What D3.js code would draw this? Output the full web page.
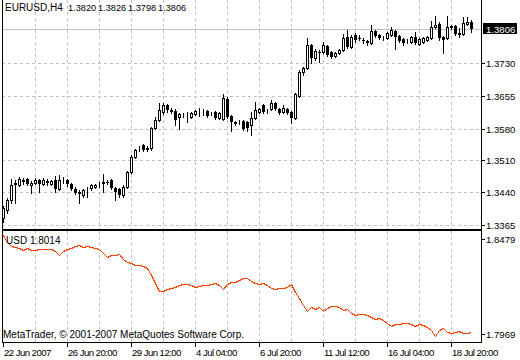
<!DOCTYPE html>
<html>
<head>
<meta charset="utf-8">
<script src="https://cdn.jsdelivr.net/npm/d3@7"></script>
<style>
  body { margin: 0; background: #fff; }
  svg { display: block; }
  text { font-family: "Liberation Sans", Arial, sans-serif; font-size: 10px; fill: #000; }
  text.num { font-size: 9.6px; }
  text.head { font-size: 9.2px; }
  text.date { font-size: 9.6px; letter-spacing: -0.55px; }
</style>
</head>
<body>
<svg id="chart" width="520" height="360"></svg>
<script>
// EURUSD H4 bars, 22 Jun 2007 .. 19 Jul 2007
const symbol = "EURUSD,H4";
const opens = [
  1.3381, 1.3399, 1.3421, 1.3457, 1.3455, 1.3464, 1.3468, 1.3455, 1.3459, 1.3466,
  1.3457, 1.3462, 1.3457, 1.3466, 1.3446, 1.3466, 1.3466, 1.3457, 1.3446, 1.3439,
  1.3432, 1.3441, 1.3448, 1.3450, 1.3457, 1.3459, 1.3462, 1.3466, 1.3448, 1.3446,
  1.3432, 1.3450, 1.3484, 1.3518, 1.3538, 1.3545, 1.3536, 1.3538, 1.3583, 1.3601,
  1.3619, 1.3635, 1.3623, 1.3621, 1.3608, 1.3612, 1.3612, 1.3608, 1.3614, 1.3621,
  1.3621, 1.3621, 1.3614, 1.3619, 1.3605, 1.3603, 1.3648, 1.3610, 1.3596, 1.3596,
  1.3599, 1.3596, 1.3590, 1.3605, 1.3619, 1.3635, 1.3621, 1.3626, 1.3639, 1.3626,
  1.3619, 1.3626, 1.3619, 1.3605, 1.3655, 1.3709, 1.3718, 1.3769, 1.3740, 1.3754,
  1.3754, 1.3767, 1.3754, 1.3745, 1.3751, 1.3758, 1.3787, 1.3765, 1.3792, 1.3785,
  1.3781, 1.3778, 1.3774, 1.3801, 1.3792, 1.3785, 1.3785, 1.3792, 1.3801, 1.3789,
  1.3783, 1.3778, 1.3776, 1.3787, 1.3771, 1.3776, 1.3781, 1.3785, 1.3810, 1.3816,
  1.3787, 1.3785, 1.3812, 1.3812, 1.3796, 1.3794, 1.3816, 1.3820
];
const highs = [
  1.3408, 1.3426, 1.3468, 1.3466, 1.3473, 1.3471, 1.3471, 1.3464, 1.3471, 1.3468,
  1.3471, 1.3468, 1.3466, 1.3475, 1.3477, 1.3473, 1.3468, 1.3459, 1.3450, 1.3444,
  1.3446, 1.3450, 1.3457, 1.3457, 1.3462, 1.3480, 1.3466, 1.3468, 1.3450, 1.3448,
  1.3455, 1.3486, 1.3522, 1.3536, 1.3542, 1.3547, 1.3542, 1.3585, 1.3608, 1.3639,
  1.3639, 1.3637, 1.3628, 1.3626, 1.3617, 1.3617, 1.3619, 1.3619, 1.3623, 1.3628,
  1.3626, 1.3623, 1.3619, 1.3621, 1.3619, 1.3659, 1.3653, 1.3612, 1.3599, 1.3601,
  1.3601, 1.3599, 1.3619, 1.3641, 1.3628, 1.3637, 1.3626, 1.3646, 1.3641, 1.3628,
  1.3635, 1.3628, 1.3621, 1.3662, 1.3713, 1.3720, 1.3785, 1.3771, 1.3760, 1.3758,
  1.3776, 1.3769, 1.3756, 1.3754, 1.3760, 1.3794, 1.3803, 1.3792, 1.3796, 1.3792,
  1.3785, 1.3781, 1.3814, 1.3803, 1.3794, 1.3789, 1.3799, 1.3810, 1.3803, 1.3792,
  1.3785, 1.3783, 1.3789, 1.3799, 1.3785, 1.3787, 1.3789, 1.3823, 1.3834, 1.3821,
  1.3789, 1.3834, 1.3814, 1.3814, 1.3807, 1.3832, 1.3832, 1.3826
];
const lows = [
  1.3372, 1.3392, 1.3414, 1.3414, 1.3453, 1.3457, 1.3455, 1.3437, 1.3457, 1.3439,
  1.3455, 1.3455, 1.3455, 1.3439, 1.3444, 1.3459, 1.3453, 1.3444, 1.3435, 1.3414,
  1.3428, 1.3428, 1.3444, 1.3448, 1.3450, 1.3439, 1.3457, 1.3446, 1.3421, 1.3428,
  1.3428, 1.3448, 1.3482, 1.3516, 1.3531, 1.3531, 1.3531, 1.3533, 1.3580, 1.3599,
  1.3614, 1.3619, 1.3617, 1.3590, 1.3580, 1.3608, 1.3596, 1.3605, 1.3612, 1.3610,
  1.3612, 1.3608, 1.3612, 1.3603, 1.3603, 1.3601, 1.3605, 1.3576, 1.3590, 1.3592,
  1.3578, 1.3576, 1.3567, 1.3603, 1.3617, 1.3617, 1.3617, 1.3623, 1.3623, 1.3614,
  1.3617, 1.3614, 1.3594, 1.3603, 1.3653, 1.3702, 1.3715, 1.3729, 1.3736, 1.3731,
  1.3751, 1.3745, 1.3740, 1.3742, 1.3749, 1.3756, 1.3763, 1.3763, 1.3776, 1.3781,
  1.3774, 1.3769, 1.3771, 1.3787, 1.3783, 1.3781, 1.3783, 1.3789, 1.3760, 1.3776,
  1.3769, 1.3774, 1.3774, 1.3771, 1.3769, 1.3774, 1.3778, 1.3783, 1.3808, 1.3781,
  1.3751, 1.3783, 1.3805, 1.3792, 1.3787, 1.3792, 1.3814, 1.3798
];
const closes = [
  1.3403, 1.3421, 1.3455, 1.3459, 1.3468, 1.3465, 1.3457, 1.3459, 1.3466, 1.3457,
  1.3466, 1.3463, 1.3464, 1.3446, 1.3466, 1.3467, 1.3457, 1.3446, 1.3437, 1.3435,
  1.3444, 1.3442, 1.3455, 1.3455, 1.3458, 1.3462, 1.3461, 1.3448, 1.3439, 1.3432,
  1.3450, 1.3484, 1.3518, 1.3533, 1.3539, 1.3533, 1.3537, 1.3583, 1.3601, 1.3623,
  1.3635, 1.3623, 1.3619, 1.3601, 1.3614, 1.3613, 1.3612, 1.3617, 1.3621, 1.3622,
  1.3621, 1.3610, 1.3614, 1.3605, 1.3617, 1.3650, 1.3608, 1.3596, 1.3592, 1.3596,
  1.3581, 1.3583, 1.3605, 1.3623, 1.3626, 1.3619, 1.3621, 1.3639, 1.3626, 1.3617,
  1.3628, 1.3617, 1.3605, 1.3659, 1.3709, 1.3718, 1.3769, 1.3740, 1.3756, 1.3753,
  1.3769, 1.3747, 1.3742, 1.3751, 1.3758, 1.3785, 1.3765, 1.3787, 1.3781, 1.3784,
  1.3778, 1.3774, 1.3801, 1.3789, 1.3785, 1.3786, 1.3796, 1.3803, 1.3787, 1.3778,
  1.3774, 1.3779, 1.3787, 1.3774, 1.3783, 1.3785, 1.3787, 1.3810, 1.3814, 1.3785,
  1.3781, 1.3810, 1.3808, 1.3794, 1.3792, 1.3819, 1.3821, 1.3806
];
// USD index in the sub window
const usdName = "USD";
const usdCurrent = 1.8014;
const usdValues = [
  1.8479, 1.8444, 1.8423, 1.8418, 1.8413, 1.8403, 1.8413, 1.8403, 1.8403, 1.8408,
  1.8408, 1.8408, 1.8408, 1.8398, 1.8378, 1.8398, 1.8408, 1.8413, 1.8423, 1.8428,
  1.8418, 1.8423, 1.8418, 1.8413, 1.8408, 1.8388, 1.8368, 1.8378, 1.8378, 1.8383,
  1.8358, 1.8343, 1.8338, 1.8327, 1.8327, 1.8322, 1.8312, 1.8277, 1.8237, 1.8196,
  1.8196, 1.8206, 1.8212, 1.8217, 1.8227, 1.8232, 1.8232, 1.8227, 1.8217, 1.8222,
  1.8227, 1.8227, 1.8232, 1.8237, 1.8227, 1.8206, 1.8232, 1.8242, 1.8242, 1.8252,
  1.8262, 1.8262, 1.8247, 1.8237, 1.8232, 1.8237, 1.8227, 1.8212, 1.8206, 1.8212,
  1.8212, 1.8217, 1.8232, 1.8191, 1.8161, 1.8126, 1.8096, 1.8116, 1.8106, 1.8116,
  1.8096, 1.8111, 1.8121, 1.8121, 1.8116, 1.8101, 1.8106, 1.8085, 1.8075, 1.8080,
  1.8080, 1.8075, 1.8065, 1.8055, 1.8060, 1.8050, 1.8035, 1.8020, 1.8030, 1.8030,
  1.8035, 1.8035, 1.8030, 1.8020, 1.8030, 1.8025, 1.8015, 1.8000, 1.7969, 1.8000,
  1.8010, 1.7990, 1.7985, 1.7990, 1.7995, 1.7985, 1.7985, 1.7990
];
const priceTicks = [1.3365, 1.3440, 1.3510, 1.3580, 1.3655, 1.3730];
const usdTicks = [1.7969, 1.8479];
const dateLabels = ["22 Jun 2007", "26 Jun 20:00", "29 Jun 12:00", "4 Jul 04:00",
                    "6 Jul 20:00", "11 Jul 12:00", "16 Jul 04:00", "18 Jul 20:00"];
const dateLabelBars = [0, 16, 32, 48, 64, 80, 96, 112];
const copyright = "MetaTrader, \u00a9 2001-2007 MetaQuotes Software Corp.";

// Layout
const left = 2, right = 481;
const mainTop = 0, mainBottom = 229;
const subTop = 231, subBottom = 342;
const barStep = 4;
const gridColor = "#c0c0c0";
const lineColor = "#ff4500";

const n = closes.length;
const fmt = d3.format(".4f");

const x = d3.scaleLinear()
  .domain([0, n - 1])
  .range([left + 1, left + 1 + barStep * (n - 1)]);
const y = d3.scaleLinear()
  .domain([priceTicks[0], priceTicks[priceTicks.length - 1]])
  .range([225, 62.5]);
const yUsd = d3.scaleLinear()
  .domain(usdTicks)
  .range([336, 235]);

const svg = d3.select("#chart")
  .attr("shape-rendering", "crispEdges");

svg.append("rect")
  .attr("width", 520).attr("height", 360)
  .attr("fill", "#fff");

// Grid
const gridBars = d3.range(8, n, 8);
const grid = svg.append("g")
  .attr("stroke", gridColor)
  .attr("stroke-dasharray", "3,3");
grid.selectAll(".vmain")
  .data(gridBars)
  .join("line")
    .attr("x1", d => x(d) + 0.5).attr("x2", d => x(d) + 0.5)
    .attr("y1", mainTop).attr("y2", mainBottom);
grid.selectAll(".vsub")
  .data(gridBars)
  .join("line")
    .attr("x1", d => x(d) + 0.5).attr("x2", d => x(d) + 0.5)
    .attr("y1", subTop).attr("y2", subBottom);
grid.selectAll(".h")
  .data(priceTicks)
  .join("line")
    .attr("x1", left).attr("x2", right)
    .attr("y1", d => Math.round(y(d)) + 0.5)
    .attr("y2", d => Math.round(y(d)) + 0.5);

// Bid line
const last = n - 1;
const bidY = Math.round(y(closes[last])) + 0.5;
svg.append("line")
  .attr("x1", left).attr("x2", right)
  .attr("y1", bidY).attr("y2", bidY)
  .attr("stroke", gridColor);

// Candles
const bars = d3.range(n);
const up = i => closes[i] >= opens[i];
const candles = svg.append("g");
candles.selectAll(".wick")
  .data(bars)
  .join("line")
    .attr("x1", i => x(i) + 0.5).attr("x2", i => x(i) + 0.5)
    .attr("y1", i => Math.round(y(highs[i])))
    .attr("y2", i => Math.round(y(lows[i])) + 1)
    .attr("stroke", "#000");
candles.selectAll(".body")
  .data(bars)
  .join("rect")
    .attr("x", i => up(i) ? x(i) - 0.5 : x(i) - 1)
    .attr("y", i => {
      const t = Math.round(y(Math.max(opens[i], closes[i])));
      return up(i) ? t + 0.5 : t;
    })
    .attr("width", i => up(i) ? 2 : 3)
    .attr("height", i => {
      const h = Math.round(y(Math.min(opens[i], closes[i]))) - Math.round(y(Math.max(opens[i], closes[i])));
      return up(i) ? Math.max(h, 0) : Math.max(h, 1);
    })
    .attr("fill", i => up(i) ? "#fff" : "#000")
    .attr("stroke", i => up(i) ? "#000" : "none");

// USD line
const line = d3.line()
  .x((d, i) => x(i) + 0.5)
  .y(d => Math.round(yUsd(d)) + 0.5);
svg.append("path")
  .datum(usdValues)
  .attr("fill", "none")
  .attr("stroke", lineColor)
  .attr("d", line);

// Frames
const frame = svg.append("g").attr("stroke", "#000");
frame.append("line").attr("x1", left + 0.5).attr("x2", left + 0.5).attr("y1", mainTop).attr("y2", subBottom + 1);
frame.append("line").attr("x1", right + 0.5).attr("x2", right + 0.5).attr("y1", mainTop).attr("y2", subBottom + 1);
frame.append("line").attr("x1", left).attr("x2", right + 1).attr("y1", mainBottom + 0.5).attr("y2", mainBottom + 0.5);
frame.append("line").attr("x1", left).attr("x2", right + 1).attr("y1", subTop - 0.5).attr("y2", subTop - 0.5);
frame.append("line").attr("x1", left).attr("x2", right + 1).attr("y1", subBottom + 0.5).attr("y2", subBottom + 0.5);

// Price axis
const priceAxis = svg.append("g");
priceAxis.selectAll("line")
  .data(priceTicks)
  .join("line")
    .attr("x1", right + 1).attr("x2", right + 4)
    .attr("y1", d => Math.round(y(d)) + 0.5)
    .attr("y2", d => Math.round(y(d)) + 0.5)
    .attr("stroke", "#000");
priceAxis.selectAll("text")
  .data(priceTicks)
  .join("text")
    .attr("class", "num")
    .attr("x", 486)
    .attr("y", d => Math.round(y(d)) + 4)
    .text(fmt);

// Current price box
svg.append("rect")
  .attr("x", 483).attr("y", bidY - 6.5)
  .attr("width", 34).attr("height", 11)
  .attr("fill", "#000");
svg.append("text")
  .attr("class", "num")
  .attr("x", 486).attr("y", bidY + 3.5)
  .style("fill", "#fff")
  .text(fmt(closes[last]));

// USD axis
const usdAxis = svg.append("g");
const usdLabelY = d => Math.min(Math.max(yUsd(d) + 3.5, subTop + 12), subBottom - 4);
usdAxis.selectAll("line")
  .data(usdTicks)
  .join("line")
    .attr("x1", right + 1).attr("x2", right + 4)
    .attr("y1", d => Math.round(usdLabelY(d) - 4) + 0.5)
    .attr("y2", d => Math.round(usdLabelY(d) - 4) + 0.5)
    .attr("stroke", "#000");
usdAxis.selectAll("text")
  .data(usdTicks)
  .join("text")
    .attr("class", "num")
    .attr("x", 486)
    .attr("y", usdLabelY)
    .text(fmt);

// Time axis
const timeAxis = svg.append("g");
timeAxis.selectAll("line")
  .data(dateLabelBars)
  .join("line")
    .attr("x1", d => x(d) + 0.5).attr("x2", d => x(d) + 0.5)
    .attr("y1", subBottom + 1).attr("y2", subBottom + 5)
    .attr("stroke", "#000");
timeAxis.selectAll("text")
  .data(dateLabelBars)
  .join("text")
    .attr("class", "date")
    .attr("x", d => x(d) + 1)
    .attr("y", 356)
    .text((d, i) => dateLabels[i]);

// Header labels
const header = svg.append("g");
header.append("text").attr("x", 5).attr("y", 11).text(symbol);
header.selectAll(".ohlc")
  .data([opens[last], highs[last], lows[last], closes[last]])
  .join("text")
    .attr("class", "head")
    .attr("x", (d, i) => 68 + i * 30)
    .attr("y", 11)
    .text(fmt);
svg.append("text").attr("x", 6).attr("y", 244).text(`${usdName} ${fmt(usdCurrent)}`);
svg.append("text").attr("x", 3).attr("y", 338).text(copyright);
</script>
</body>
</html>
